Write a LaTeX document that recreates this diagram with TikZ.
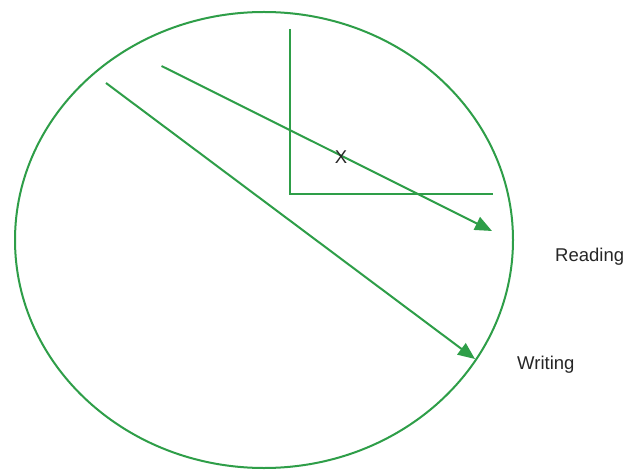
\documentclass[tikz,border=0pt]{standalone}
\usepackage{fontspec}
\setmainfont{Liberation Sans}
\usetikzlibrary{arrows.meta}
\definecolor{lgreen}{RGB}{46,158,72}
\tikzset{
  gline/.style={draw=lgreen, line width=2pt},
  garrow/.style={gline, -{Triangle[length=17pt,width=14pt]}},
  lbl/.style={inner sep=0pt, font=\fontsize{18.5}{21}\selectfont, text=black!85}
}
\begin{document}
\begin{tikzpicture}[x=1pt,y=-1pt]
\useasboundingbox[fill=white] (0,0) rectangle (639,470);
\draw[gline] (264,240) ellipse [x radius=249, y radius=228];
\coordinate (vtop) at (290,29);
\coordinate (corner) at (290,194);
\coordinate (hend) at (493,194);
\draw[gline, line width=1.8pt] (vtop) -- (corner) -- (hend);
\coordinate (r0) at (161.5,66);
\coordinate (r1) at (492,231);
\coordinate (w0) at (106,83);
\coordinate (w1) at (475,359);
\draw[garrow] (r0) -- (r1);
\draw[garrow] (w0) -- (w1);
\node[lbl] (x) at (341,157) {X};
\node[lbl, anchor=base west] (reading) at (555,261) {Reading};
\node[lbl, anchor=base west] (writing) at (517,369) {Writing};
\end{tikzpicture}
\end{document}
